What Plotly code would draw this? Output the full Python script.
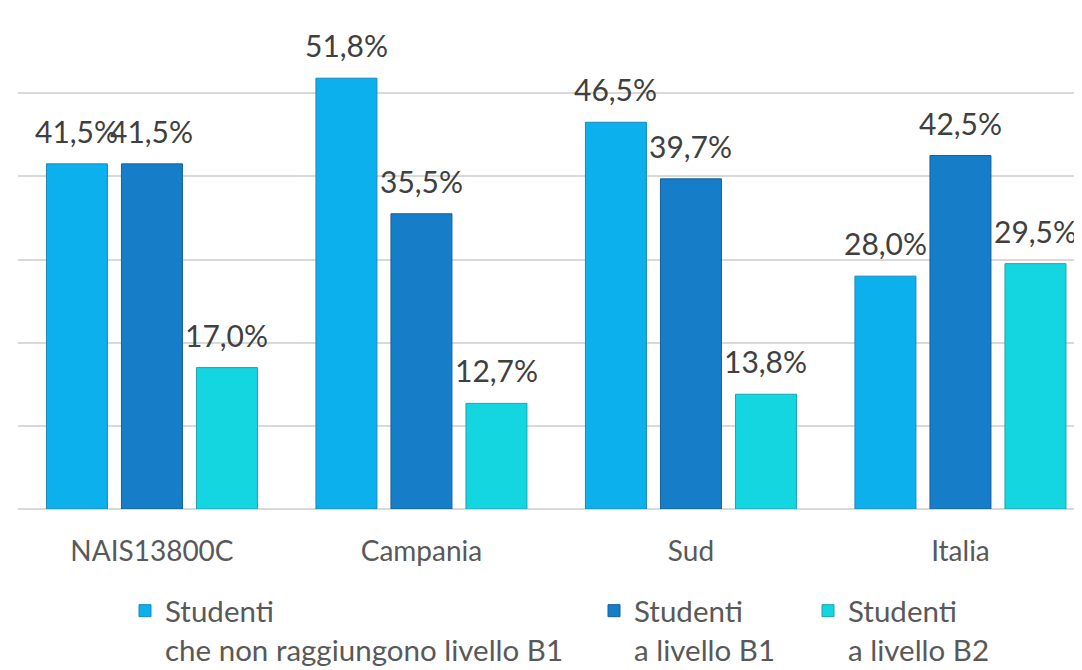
import plotly.graph_objects as go

categories = ["NAIS13800C", "Campania", "Sud", "Italia"]
series_names = [
    "Studenti<br>che non raggiungono livello B1",
    "Studenti<br>a livello B1",
    "Studenti<br>a livello B2",
]
values_below_b1 = [41.5, 51.8, 46.5, 28.0]
values_b1 = [41.5, 35.5, 39.7, 42.5]
values_b2 = [17.0, 12.7, 13.8, 29.5]
series_values = [values_below_b1, values_b1, values_b2]

colors = ["#0CB0EC", "#167DC8", "#14D6E0"]
line_colors = ["#1A89B8", "#14609C", "#1AA4B0"]
legend_ids = ["legend", "legend2", "legend3"]
legend_x_px = [117, 586, 800]

FONT = "Lato"
W, H = 1082, 670

fig = go.Figure()
for i, (name, vals) in enumerate(zip(series_names, series_values)):
    fig.add_trace(go.Bar(
        x=categories, y=vals, name=name,
        marker=dict(color=colors[i], line=dict(color=line_colors[i], width=1)),
        legend=legend_ids[i],
        hoverinfo="skip",
    ))

slot_px = 75
annotations = []
for i, vals in enumerate(series_values):
    for cat, v in zip(categories, vals):
        annotations.append(dict(
            x=cat, y=v, xref="x", yref="y",
            text=f"{v:.1f}".replace(".", ",") + "%",
            showarrow=False, yanchor="bottom", xanchor="center",
            xshift=(i - 1) * slot_px, yshift=13,
            font=dict(family=FONT, size=30, color="#404040"),
        ))

legend_common = dict(
    orientation="v", xref="container", yref="container",
    yanchor="top", xanchor="left", valign="top",
    font=dict(family=FONT, size=29.5, color="#595959"),
    bgcolor="rgba(0,0,0,0)", borderwidth=0,
    tracegroupgap=0,
)
legends = {}
for lid, lx in zip(legend_ids, legend_x_px):
    legends[lid] = dict(legend_common, x=lx / W, y=1 - 577 / H)

fig.update_layout(
    width=W, height=H,
    margin=dict(l=10, r=8, t=2, b=169, autoexpand=False),
    paper_bgcolor="white", plot_bgcolor="white",
    barmode="group", bargap=0.165, bargroupgap=0.187,
    showlegend=True,
    annotations=annotations,
    xaxis=dict(
        type="category", categoryorder="array", categoryarray=categories,
        range=[-0.497, 3.451], showgrid=False, ticks="",
        showline=False, zeroline=False, tickangle=0,
        tickfont=dict(family=FONT, size=28, color="#595959"),
        ticklabelstandoff=23,
    ),
    yaxis=dict(
        range=[0, 60], dtick=10, showticklabels=False, ticks="",
        showgrid=True, gridcolor="#D9D9D9", gridwidth=1.6,
        zeroline=True, zerolinecolor="#D9D9D9", zerolinewidth=1.6,
        showline=False,
    ),
    **legends,
)

fig.write_html("out.html")
